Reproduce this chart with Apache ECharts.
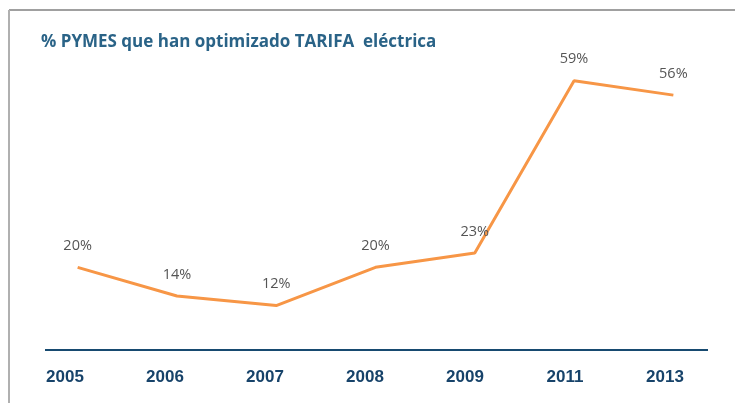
<!DOCTYPE html>
<html>
<head>
<meta charset="utf-8">
<script src="https://cdn.jsdelivr.net/npm/echarts@6/dist/echarts.min.js"></script>
<style>
  html, body { margin: 0; padding: 0; background: #fff; }
  #main { width: 735px; height: 403px; }
</style>
</head>
<body>
<div id="main"></div>
<script>
// datos
var years = ['2005', '2006', '2007', '2008', '2009', '2011', '2013'];
var pymes = [20, 14, 12, 20, 23, 59, 56];

(function (){
var dom = document.getElementById("main");
var myChart = echarts.init(dom);
var option = null;
option = {
    backgroundColor: '#fff',
    title: {
        text: '% PYMES que han optimizado TARIFA  eléctrica',
        left: 36,
        top: 29,
        textStyle: {
            fontFamily: 'Open Sans',
            fontWeight: 'bold',
            fontSize: 17,
            color: '#2a6387'
        }
    },
    graphic: [
        // marco
        { type: 'line', shape: { x1: 9, y1: 10, x2: 735, y2: 10 }, style: { stroke: '#a0a0a0', lineWidth: 2 } },
        { type: 'line', shape: { x1: 9, y1: 10, x2: 9, y2: 403 }, style: { stroke: '#b0b0b0', lineWidth: 2 } },
        // linea del eje
        { type: 'line', shape: { x1: 45, y1: 350, x2: 708, y2: 350 }, style: { stroke: '#174a70', lineWidth: 2 } }
    ],
    grid: [
        { left: 28, right: 12, top: 76, bottom: 40 },
        { left: 15, right: 20, top: 76, bottom: 40 }
    ],
    xAxis: [
        {
            type: 'category',
            gridIndex: 0,
            data: years,
            boundaryGap: true,
            axisLine: { show: false },
            axisTick: { show: false },
            axisLabel: { show: false }
        },
        {
            type: 'category',
            gridIndex: 1,
            data: years,
            boundaryGap: true,
            axisLine: { show: false },
            axisTick: { show: false },
            axisLabel: {
                margin: 6,
                fontFamily: 'Liberation Sans',
                fontWeight: 'bold',
                fontSize: 17,
                color: '#17436a'
            }
        }
    ],
    yAxis: [
        { type: 'value', gridIndex: 0, min: 0, max: 60, show: false },
        { type: 'value', gridIndex: 1, min: 0, max: 60, show: false }
    ],
    series: [
        {
            name: 'PYMES',
            type: 'line',
            xAxisIndex: 0,
            yAxisIndex: 0,
            data: pymes,
            symbol: 'circle',
            symbolSize: 0.1,
            showSymbol: true,
            lineStyle: { color: '#f79646', width: 3 },
            itemStyle: { color: '#f79646' },
            label: {
                show: true,
                position: 'top',
                distance: 14,
                formatter: '{c}%',
                fontFamily: 'Open Sans',
                fontSize: 14.5,
                color: '#555'
            }
        }
    ]
};
if (option && typeof option === "object") {
    myChart.setOption(option, true);
}
})();
</script>
</body>
</html>
